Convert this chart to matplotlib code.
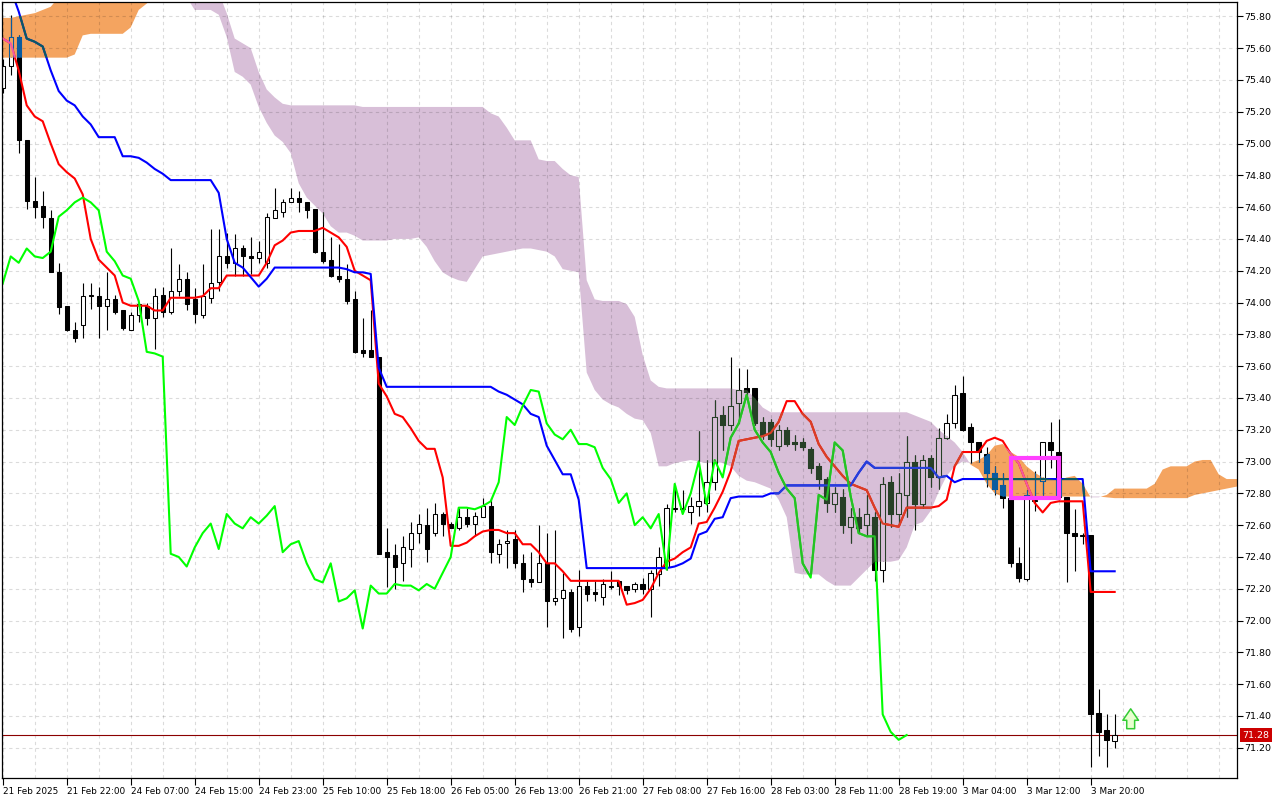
import matplotlib
matplotlib.use('Agg')
import matplotlib.pyplot as plt
import matplotlib.colors as mcolors
from matplotlib.patches import Rectangle
from matplotlib.path import Path
import numpy as np

plt.rcParams['font.family'] = ['DejaVu Sans']
plt.rcParams['font.size'] = 6.8

# hourly OHLC, 21 Feb 14:00 .. 3 Mar 23:00
opens = [75.35, 75.49, 75.67, 75.02, 74.64, 74.61, 74.53, 74.19, 73.98, 73.83,
         73.86, 74.04, 74.04, 73.98, 74.02, 73.95, 73.83, 73.92, 73.98, 73.90,
         74.05, 73.94, 74.07, 74.15, 74.02, 73.92, 74.03, 74.13, 74.29, 74.25,
         74.34, 74.29, 74.28, 74.25, 74.53, 74.57, 74.63, 74.66, 74.63, 74.59,
         74.32, 74.27, 74.17, 74.15, 74.02, 73.70, 73.70, 73.66, 72.43, 72.41,
         72.36, 72.45, 72.55, 72.60, 72.55, 72.67, 72.61, 72.58, 72.65, 72.61,
         72.65, 72.72, 72.42, 72.49, 72.51, 72.36, 72.26, 72.24, 72.36, 72.12,
         72.14, 72.18, 71.96, 72.22, 72.18, 72.15, 72.21, 72.25, 72.22, 72.20,
         72.23, 72.20, 72.29, 72.34, 72.70, 72.71, 72.68, 72.72, 72.74, 72.87,
         73.29, 73.23, 73.37, 73.46, 73.46, 73.25, 73.25, 73.10, 73.20, 73.12,
         73.12, 73.08, 72.97, 72.89, 72.73, 72.78, 72.59, 72.65, 72.60, 72.65,
         72.32, 72.87, 72.67, 72.79, 73.00, 72.73, 73.02, 72.90, 73.15, 73.24,
         73.43, 73.22, 73.12, 73.05, 72.93, 72.85, 72.77, 72.36, 72.26, 72.75,
         72.88, 73.12, 73.06, 72.78, 72.55, 72.54, 72.54, 71.42, 71.31, 71.24]
highs = [75.53, 75.81, 75.68, 75.02, 74.79, 74.70, 74.58, 74.25, 73.98, 73.88,
         74.12, 74.12, 74.10, 74.19, 74.05, 73.95, 73.94, 74.00, 74.00, 74.09,
         74.10, 74.34, 74.24, 74.19, 74.09, 74.24, 74.46, 74.46, 74.44, 74.43,
         74.36, 74.41, 74.39, 74.56, 74.72, 74.65, 74.72, 74.70, 74.63, 74.59,
         74.57, 74.41, 74.37, 74.24, 74.07, 73.90, 73.95, 73.66, 72.58, 72.48,
         72.53, 72.62, 72.67, 72.71, 72.74, 72.68, 72.62, 72.71, 72.71, 72.68,
         72.77, 72.77, 72.51, 72.57, 72.57, 72.42, 72.43, 72.60, 72.55, 72.57,
         72.30, 72.20, 72.32, 72.25, 72.25, 72.26, 72.31, 72.25, 72.22, 72.24,
         72.27, 72.32, 72.46, 72.73, 72.85, 72.82, 72.78, 73.19, 73.01, 73.39,
         73.35, 73.66, 73.59, 73.58, 73.46, 73.28, 73.27, 73.23, 73.22, 73.17,
         73.15, 73.09, 72.99, 72.90, 72.84, 72.83, 72.71, 72.71, 72.79, 72.68,
         72.90, 72.91, 72.93, 73.16, 73.04, 73.04, 73.04, 73.21, 73.30, 73.48,
         73.54, 73.24, 73.12, 73.09, 72.97, 72.93, 72.83, 72.46, 72.82, 72.94,
         73.12, 73.25, 73.27, 72.78, 72.70, 72.55, 72.54, 71.57, 71.41, 71.41]
lows = [75.32, 75.43, 74.94, 74.59, 74.53, 74.47, 74.19, 73.93, 73.82, 73.75,
        73.78, 73.96, 73.78, 73.83, 73.93, 73.83, 73.83, 73.88, 73.86, 73.71,
        73.91, 73.93, 74.04, 73.95, 73.87, 73.90, 74.00, 74.07, 74.22, 74.17,
        74.17, 74.18, 74.25, 74.22, 74.53, 74.54, 74.63, 74.57, 74.53, 74.31,
        74.25, 74.16, 74.13, 73.99, 73.68, 73.66, 73.66, 72.42, 72.21, 72.20,
        72.25, 72.34, 72.49, 72.37, 72.53, 72.53, 72.58, 72.57, 72.59, 72.54,
        72.65, 72.36, 72.36, 72.33, 72.33, 72.18, 72.21, 72.24, 71.96, 72.10,
        71.89, 71.93, 71.90, 72.12, 72.12, 72.10, 72.20, 72.16, 72.17, 72.18,
        72.17, 72.02, 72.22, 72.32, 72.68, 72.68, 72.61, 72.66, 72.68, 72.82,
        73.07, 73.20, 73.24, 73.42, 73.23, 73.14, 73.10, 73.07, 73.10, 73.07,
        73.07, 72.93, 72.83, 72.68, 72.68, 72.55, 72.49, 72.55, 72.53, 72.25,
        72.24, 72.59, 72.60, 72.65, 72.57, 72.71, 72.84, 72.83, 73.14, 73.21,
        73.19, 72.99, 73.00, 72.84, 72.79, 72.71, 72.34, 72.24, 72.25, 72.69,
        72.79, 72.96, 72.76, 72.24, 72.31, 72.48, 71.08, 71.15, 71.08, 71.20]
closes = [75.49, 75.67, 75.02, 74.64, 74.60, 74.54, 74.19, 73.97, 73.83, 73.78,
          74.04, 74.05, 73.98, 74.02, 73.94, 73.84, 73.92, 73.99, 73.90, 74.04,
          73.94, 74.07, 74.15, 73.99, 73.93, 74.04, 74.12, 74.29, 74.25, 74.34,
          74.29, 74.28, 74.32, 74.54, 74.58, 74.63, 74.66, 74.63, 74.58, 74.32,
          74.26, 74.17, 74.15, 74.01, 73.69, 73.68, 73.66, 72.42, 72.40, 72.34,
          72.46, 72.55, 72.61, 72.45, 72.67, 72.61, 72.58, 72.65, 72.61, 72.66,
          72.72, 72.43, 72.48, 72.50, 72.36, 72.26, 72.24, 72.36, 72.12, 72.14,
          72.19, 71.95, 72.22, 72.17, 72.17, 72.23, 72.22, 72.22, 72.19, 72.23,
          72.20, 72.30, 72.40, 72.71, 72.71, 72.70, 72.72, 72.75, 72.87, 73.28,
          73.23, 73.35, 73.45, 73.44, 73.24, 73.17, 73.14, 73.20, 73.11, 73.11,
          73.09, 72.96, 72.89, 72.74, 72.80, 72.60, 72.65, 72.58, 72.67, 72.32,
          72.86, 72.67, 72.80, 73.00, 72.73, 73.01, 72.90, 73.15, 73.24, 73.42,
          73.20, 73.12, 73.06, 72.93, 72.83, 72.77, 72.36, 72.27, 72.79, 72.76,
          73.12, 73.07, 72.78, 72.55, 72.53, 72.53, 71.41, 71.30, 71.25, 71.28]

# Ichimoku lines
tenkan = [75.66, 75.63, 75.46, 75.24, 75.17, 75.14, 75.00, 74.87, 74.82, 74.78,
          74.68, 74.40, 74.27, 74.22, 74.17, 74.00, 73.98, 73.98, 73.98, 73.95,
          73.95, 74.03, 74.03, 74.03, 74.03, 74.04, 74.09, 74.09, 74.17, 74.17,
          74.17, 74.17, 74.17, 74.25, 74.36, 74.39, 74.44, 74.45, 74.45, 74.45,
          74.47, 74.44, 74.41, 74.35, 74.20, 74.17, 74.14, 73.49, 73.41, 73.30,
          73.28, 73.21, 73.13, 73.08, 73.08, 72.90, 72.47, 72.47, 72.49, 72.53,
          72.56, 72.57, 72.57, 72.55, 72.55, 72.48, 72.48, 72.43, 72.36, 72.36,
          72.31, 72.25, 72.25, 72.25, 72.25, 72.25, 72.25, 72.25, 72.10, 72.11,
          72.13, 72.20, 72.30, 72.37, 72.39, 72.43, 72.46, 72.61, 72.62, 72.71,
          72.81, 72.94, 73.13, 73.14, 73.15, 73.16, 73.18, 73.25, 73.38, 73.38,
          73.30, 73.25, 73.11, 73.03, 72.97, 72.91, 72.86, 72.84, 72.82, 72.71,
          72.61, 72.60, 72.59, 72.71, 72.71, 72.71, 72.71, 72.72, 72.76, 72.97,
          73.06, 73.06, 73.06, 73.13, 73.15, 73.13, 73.05, 72.99, 72.86, 72.74,
          72.68, 72.74, 72.75, 72.75, 72.75, 72.75, 72.18, 72.18, 72.18, 72.18]
kijun = [76.05, 75.97, 75.83, 75.66, 75.64, 75.61, 75.46, 75.33, 75.27, 75.24,
         75.17, 75.12, 75.04, 75.04, 75.04, 74.92, 74.92, 74.91, 74.88, 74.84,
         74.81, 74.77, 74.77, 74.77, 74.77, 74.77, 74.77, 74.69, 74.40, 74.25,
         74.22, 74.16, 74.10, 74.15, 74.22, 74.22, 74.22, 74.22, 74.22, 74.22,
         74.22, 74.22, 74.22, 74.21, 74.19, 74.19, 74.18, 73.59, 73.47, 73.47,
         73.47, 73.47, 73.47, 73.47, 73.47, 73.47, 73.47, 73.47, 73.47, 73.47,
         73.47, 73.47, 73.44, 73.42, 73.39, 73.36, 73.30, 73.28, 73.10, 73.01,
         72.92, 72.92, 72.76, 72.33, 72.33, 72.33, 72.33, 72.33, 72.33, 72.33,
         72.33, 72.33, 72.33, 72.33, 72.34, 72.36, 72.39, 72.54, 72.56, 72.64,
         72.65, 72.77, 72.78, 72.78, 72.78, 72.78, 72.80, 72.80, 72.85, 72.85,
         72.85, 72.85, 72.85, 72.85, 72.85, 72.85, 72.85, 72.93, 73.00, 72.96,
         72.96, 72.96, 72.96, 72.96, 72.96, 72.96, 72.96, 72.90, 72.91, 72.87,
         72.89, 72.89, 72.89, 72.89, 72.89, 72.89, 72.89, 72.89, 72.89, 72.89,
         72.89, 72.89, 72.89, 72.89, 72.89, 72.89, 72.31, 72.31, 72.31, 72.31]
# senkou spans, already shifted 26 bars forward (156 bars incl. future)
span_a = [75.79, 75.79, 75.80, 75.81, 75.82, 75.84, 75.86, 75.92, 75.95, 75.96,
          75.97, 75.98, 75.98, 75.98, 75.98, 75.98, 75.98, 75.98, 75.98, 75.98,
          75.98, 75.97, 75.95, 75.92, 75.84, 75.84, 75.84, 75.81, 75.67, 75.45,
          75.42, 75.37, 75.23, 75.13, 75.05, 75.01, 74.94, 74.75, 74.66, 74.61,
          74.56, 74.48, 74.44, 74.44, 74.42, 74.39, 74.39, 74.39, 74.39, 74.40,
          74.40, 74.40, 74.41, 74.35, 74.26, 74.19, 74.16, 74.14, 74.13, 74.21,
          74.29, 74.30, 74.31, 74.32, 74.33, 74.34, 74.34, 74.33, 74.32, 74.29,
          74.21, 74.20, 74.19, 73.56, 73.45, 73.39, 73.36, 73.34, 73.30, 73.27,
          73.26, 73.18, 72.97, 72.97, 72.99, 73.00, 73.01, 73.00, 72.99, 73.00,
          72.99, 72.97, 72.91, 72.88, 72.87, 72.85, 72.83, 72.76, 72.65, 72.30,
          72.29, 72.29, 72.29, 72.25, 72.22, 72.22, 72.22, 72.27, 72.32, 72.37,
          72.37, 72.37, 72.38, 72.46, 72.60, 72.62, 72.69, 72.81, 72.91, 72.97,
          73.00, 72.99, 73.01, 73.04, 73.10, 73.11, 73.06, 73.03, 72.97, 72.93,
          72.90, 72.89, 72.88, 72.90, 72.91, 72.86, 72.775, 72.775, 72.79, 72.83,
          72.83, 72.83, 72.83, 72.83, 72.86, 72.95, 72.97, 72.97, 72.97, 73.00,
          73.01, 73.01, 72.92, 72.89, 72.89, 72.89]
span_b = [75.54, 75.54, 75.54, 75.54, 75.54, 75.54, 75.54, 75.54, 75.54, 75.56,
          75.68, 75.69, 75.69, 75.69, 75.69, 75.69, 75.73, 75.84, 75.88, 75.93,
          75.96, 75.99, 76.02, 76.05, 76.05, 76.05, 76.05, 75.95, 75.82, 75.66,
          75.63, 75.60, 75.45, 75.34, 75.29, 75.25, 75.24, 75.24, 75.24, 75.24,
          75.24, 75.24, 75.24, 75.24, 75.24, 75.23, 75.23, 75.23, 75.23, 75.23,
          75.23, 75.23, 75.23, 75.23, 75.23, 75.23, 75.23, 75.23, 75.23, 75.23,
          75.23, 75.19, 75.17, 75.10, 75.02, 75.02, 75.02, 74.90, 74.89, 74.89,
          74.84, 74.80, 74.79, 74.14, 74.02, 74.01, 74.01, 74.01, 73.99, 73.91,
          73.67, 73.51, 73.47, 73.46, 73.46, 73.46, 73.46, 73.46, 73.46, 73.46,
          73.46, 73.46, 73.45, 73.45, 73.40, 73.34, 73.31, 73.31, 73.31, 73.31,
          73.31, 73.31, 73.31, 73.31, 73.31, 73.31, 73.31, 73.31, 73.31, 73.31,
          73.31, 73.31, 73.31, 73.31, 73.29, 73.27, 73.25, 73.20, 73.16, 73.12,
          73.06, 72.98, 72.95, 72.86, 72.80, 72.78, 72.78, 72.78, 72.78, 72.78,
          72.78, 72.78, 72.78, 72.78, 72.78, 72.78, 72.78, 72.78, 72.775, 72.77,
          72.77, 72.77, 72.77, 72.77, 72.77, 72.77, 72.77, 72.77, 72.77, 72.79,
          72.80, 72.81, 72.82, 72.83, 72.84, 72.85]
chikou_shift = 26

time_labels = ['21 Feb 2025', '21 Feb 22:00', '24 Feb 07:00', '24 Feb 15:00',
               '24 Feb 23:00', '25 Feb 10:00', '25 Feb 18:00', '26 Feb 05:00',
               '26 Feb 13:00', '26 Feb 21:00', '27 Feb 08:00', '27 Feb 16:00',
               '28 Feb 03:00', '28 Feb 11:00', '28 Feb 19:00', '3 Mar 04:00',
               '3 Mar 12:00', '3 Mar 20:00']
bars_per_label = 8

last_price = 71.28
box_bars = (126, 132)          # highlighted zone
box_prices = (72.77, 73.02)
arrow_bar = 141
arrow_prices = (71.32, 71.445)  # base, tip

UP_CLOUD = '#f4a460'    # sandybrown
DOWN_CLOUD = '#d8bfd8'  # thistle


def xor_color(color, cloud):
    # MT5 paints the cloud in xor mode; mimic that for things under it
    rgb = [int(round(v * 255)) for v in mcolors.to_rgb(color)]
    key = [255 - int(round(v * 255)) for v in mcolors.to_rgb(cloud)]
    return '#{:02x}{:02x}{:02x}'.format(*(c ^ k for c, k in zip(rgb, key)))


fig = plt.figure(figsize=(12.8, 8), dpi=100)
ax = fig.add_axes([2 / 1280, 22 / 800, 1235 / 1280, 776 / 800])

n = len(closes)
bars = np.arange(n)
o = np.array(opens)
c = np.array(closes)
rising = c >= o
body_lo = np.minimum(o, c)
body_h = np.abs(c - o)

cx = np.arange(len(span_a))
sa = np.array(span_a)
sb = np.array(span_b)
up_fill = ax.fill_between(cx, sa, sb, where=sa >= sb, interpolate=True,
                          facecolor=UP_CLOUD, lw=0, zorder=1)
dn_fill = ax.fill_between(cx, sa, sb, where=sa < sb, interpolate=True,
                          facecolor=DOWN_CLOUD, lw=0, zorder=1)


def draw_layer(cloud=None, clip=None, z=2.0):
    col = (lambda k: xor_color(k, cloud)) if cloud else (lambda k: k)
    arts = [ax.vlines(bars, lows, highs, colors=col('#000000'), lw=0.8, zorder=z)]
    faces = [col('#ffffff') if r else col('#000000') for r in rising]
    arts += list(ax.bar(bars, body_h, bottom=body_lo, width=0.55, color=faces,
                        edgecolor=col('#000000'), linewidth=0.75, zorder=z + 0.1))
    arts += ax.plot(bars, tenkan, color=col('#ff0000'), lw=1.5, zorder=z + 0.2)
    arts += ax.plot(bars, kijun, color=col('#0000ff'), lw=1.5, zorder=z + 0.3)
    arts += ax.plot(bars[:n - chikou_shift], closes[chikou_shift:],
                    color=col('#00ff00'), lw=1.5, zorder=z + 0.4)
    if clip is not None:
        for a in arts:
            a.set_clip_path(clip, ax.transData)


draw_layer()
draw_layer(UP_CLOUD, Path.make_compound_path(*up_fill.get_paths()), z=3.0)
draw_layer(DOWN_CLOUD, Path.make_compound_path(*dn_fill.get_paths()), z=4.0)

ax.axhline(last_price, color='#8b0000', lw=0.8, zorder=1.8)

ax.add_patch(Rectangle((box_bars[0], box_prices[0]), box_bars[1] - box_bars[0],
                       box_prices[1] - box_prices[0], fill=False,
                       edgecolor='#ff40ff', lw=3, zorder=8))

ax.annotate('', xy=(arrow_bar, arrow_prices[1]), xytext=(arrow_bar, arrow_prices[0]),
            arrowprops=dict(arrowstyle='simple,head_length=0.55,head_width=0.75,tail_width=0.38',
                            mutation_scale=15, facecolor='#e8ffd0', edgecolor='#33cc33',
                            lw=1.1, shrinkA=0, shrinkB=0),
            zorder=8)

ax.set_xlim(-0.09, 154.29)
ax.set_ylim(71.01, 75.89)

yt = np.round(np.arange(71.2, 75.81, 0.2), 2)
ax.yaxis.tick_right()
ax.set_yticks(yt)
ax.set_yticklabels(['%.2f' % v for v in yt])
ax.tick_params(axis='y', direction='out', length=4, width=0.8, pad=1.5, colors='black')

ax.set_xticks(np.arange(len(time_labels)) * bars_per_label)
ax.set_xticklabels(time_labels, ha='left', fontsize=6.4)
ax.set_xticks(np.arange(0, 155, bars_per_label // 2), minor=True)
ax.tick_params(axis='x', which='major', direction='out', length=5, width=0.8, pad=1.5)
ax.tick_params(axis='x', which='minor', length=0)

ax.set_axisbelow('line')
for axis_name, which in (('x', 'both'), ('y', 'major')):
    ax.grid(True, axis=axis_name, which=which, color='black', alpha=0.14, lw=0.8,
            linestyle=(0, (3, 3)))

for s in ax.spines.values():
    s.set_color('black')
    s.set_linewidth(0.9)

ax.annotate('%.2f' % last_price, xy=(1.0, last_price),
            xycoords=ax.get_yaxis_transform(), xytext=(4, 0),
            textcoords='offset points', ha='left', va='center', color='white',
            bbox=dict(boxstyle='square,pad=0.25', facecolor='#cc0000', edgecolor='none'),
            annotation_clip=False, zorder=10)

fig.savefig('out.png', dpi=100)
plt.close(fig)
